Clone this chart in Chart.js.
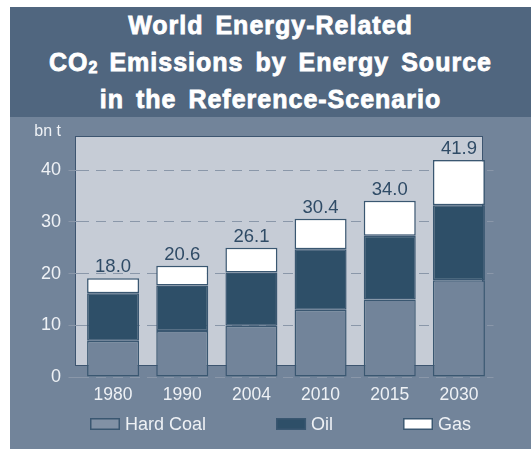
<!DOCTYPE html>
<html>
<head>
<meta charset="utf-8">
<script src="https://cdn.jsdelivr.net/npm/chart.js@4/dist/chart.umd.min.js"></script>
<style>
  html, body { margin: 0; padding: 0; background: #ffffff; }
  #wrap { position: relative; width: 531px; height: 449px; overflow: hidden; }
  #panel { position: absolute; left: 10px; top: 7px; width: 521px; height: 442px; background: #72849a; }
  #title { position: absolute; left: 10px; top: 7px; width: 521px; height: 110px; background: #50667f;
           color: #ffffff; font-family: "Liberation Sans", Arial, sans-serif; font-weight: bold; font-size: 25px;
           letter-spacing: 1px; word-spacing: 4px; -webkit-text-stroke: 0.8px #ffffff;
           line-height: 37px; text-align: center; }
  #title sub { font-size: 0.64em; vertical-align: -0.14em; line-height: 0; letter-spacing: 0; }
  #plotbg { position: absolute; left: 75px; top: 136px; width: 406px; height: 228px; background: #c6ccd6;
            border: 1px solid #3d5570; }
  #c { position: absolute; left: 0; top: 0; }
</style>
</head>
<body>
<div id="wrap">
  <div id="panel"></div>
  <div id="title">World Energy-Related<br>CO<sub>2</sub> Emissions by Energy Source<br>in the Reference-Scenario</div>
  <div id="plotbg"></div>
  <canvas id="c" width="531" height="449"></canvas>
</div>
<script>
const categories = ['1980', '1990', '2004', '2010', '2015', '2030'];
const hardCoal = [7.0, 8.9, 9.9, 13.0, 15.0, 18.7];
const oil = [9.2, 8.8, 10.3, 11.7, 12.3, 14.5];
const gas = [2.9, 3.8, 4.8, 5.9, 6.8, 8.8];
const totalLabels = ['18.0', '20.6', '26.1', '30.4', '34.0', '41.9'];
const seriesNames = ['Hard Coal', 'Oil', 'Gas'];
const yTicks = [0, 10, 20, 30, 40];
const unitLabel = 'bn t';

const FONT = '"Liberation Sans", Arial, sans-serif';
const EDGE = '#3a5771';

const extras = {
  id: 'extras',
  afterDatasetsDraw(chart) {
    const ctx = chart.ctx;
    const metas = chart.data.datasets.map((d, i) => chart.getDatasetMeta(i));
    const topMeta = metas[metas.length - 1];
    ctx.save();
    ctx.font = '18.5px ' + FONT;
    ctx.fillStyle = '#2f4b66';
    ctx.textAlign = 'center';
    ctx.textBaseline = 'alphabetic';
    topMeta.data.forEach((el, i) => {
      ctx.fillText(totalLabels[i], el.x, el.y - 6);
    });
    // unit label
    ctx.font = '16px ' + FONT;
    ctx.fillStyle = '#eef1f5';
    ctx.textAlign = 'right';
    ctx.textBaseline = 'middle';
    ctx.fillText(unitLabel, 61, 132);
    // legend
    ctx.font = '18px ' + FONT;
    ctx.textAlign = 'left';
    ctx.textBaseline = 'middle';
    let x = 90;
    const yc = 424;
    chart.data.datasets.forEach((ds) => {
      ctx.fillStyle = ds.legendFill || ds.backgroundColor;
      ctx.fillRect(x, yc - 6, 30, 12);
      ctx.strokeStyle = EDGE;
      ctx.lineWidth = 1.5;
      ctx.strokeRect(x + 0.75, yc - 6 + 0.75, 28.5, 10.5);
      ctx.fillStyle = '#eef1f5';
      ctx.fillText(ds.label, x + 35, yc + 1);
      x += 35 + ctx.measureText(ds.label).width + 70;
    });
    ctx.restore();
  }
};

new Chart(document.getElementById('c'), {
  type: 'bar',
  data: {
    labels: categories,
    datasets: [
      { label: seriesNames[0], data: hardCoal, backgroundColor: '#72849a', legendFill: '#8191a5' },
      { label: seriesNames[1], data: oil, backgroundColor: '#2e4f68' },
      { label: seriesNames[2], data: gas, backgroundColor: '#ffffff' }
    ].map(d => Object.assign(d, {
      borderColor: EDGE, borderWidth: 1.5, borderSkipped: false,
      barPercentage: 0.752, categoryPercentage: 1.0
    }))
  },
  options: {
    responsive: false,
    animation: false,
    devicePixelRatio: 1,
    layout: { padding: { top: 139.2, left: 10, right: 37.5, bottom: 42 } },
    plugins: { legend: { display: false }, tooltip: { enabled: false }, title: { display: false } },
    scales: {
      x: {
        stacked: true,
        offset: true,
        grid: { display: false, drawTicks: false },
        border: { display: false },
        ticks: { color: '#eef1f5', font: { family: FONT, size: 17.5 }, padding: 8, maxRotation: 0 },
        afterFit: s => { s.height = 30; }
      },
      y: {
        stacked: true,
        min: 0,
        max: 46,
        afterBuildTicks: s => { s.ticks = yTicks.map(v => ({ value: v })); },
        grid: { color: '#8a97a9', lineWidth: 1, tickLength: 10, tickColor: '#8a97a9' },
        border: { display: false, dash: [10, 7] },
        ticks: { color: '#eef1f5', font: { family: FONT, size: 18 }, padding: 7.5 },
        afterFit: s => { s.width = 68.5; }
      }
    }
  },
  plugins: [extras]
});
</script>
</body>
</html>
